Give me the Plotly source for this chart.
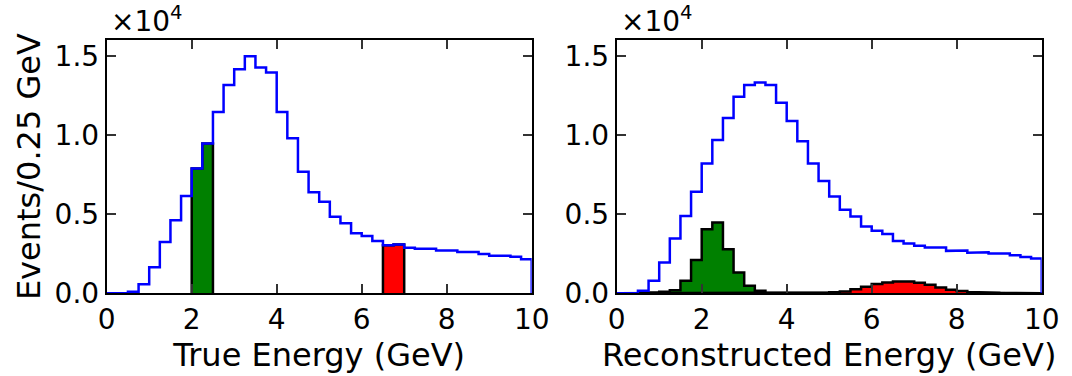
import plotly.graph_objects as go

# ---------------- data ----------------
bin_edges = [i * 0.25 for i in range(41)]  # 0 .. 10 GeV, 0.25 GeV bins

true_all = [0, 0, 100, 570, 1640, 3240, 4610, 6140, 7890, 9470,
            11450, 13150, 14160, 14980, 14270, 13950, 11450, 9790, 7680, 6380,
            5790, 4840, 4420, 3790, 3620, 3300, 3030, 3090, 2880, 2820,
            2820, 2710, 2710, 2610, 2610, 2480, 2370, 2370, 2310, 2150]
true_green = [7890, 9470]          # bins 2.00-2.50 GeV
true_green_edges = [2.0, 2.25, 2.5]
true_red = [3030, 3090]            # bins 6.50-7.00 GeV
true_red_edges = [6.5, 6.75, 7.0]

reco_all = [0, 0, 160, 790, 1950, 3460, 4890, 6410, 8200, 9680,
            11080, 12410, 13160, 13310, 13160, 12030, 10890, 9610, 8200, 7100,
            6110, 5270, 4850, 4220, 3950, 3740, 3310, 3140, 3000, 2890,
            2890, 2680, 2700, 2560, 2590, 2520, 2520, 2410, 2300, 2200]
reco_green = [0, 0, 10, 50, 100, 200, 790, 2100, 4050, 4470,
              2790, 1310, 470, 160, 30, 10, 5, 0, 0, 0,
              0, 0, 0, 0, 0, 0, 0, 0, 0, 0,
              0, 0, 0, 0, 0, 0, 0, 0, 0, 0]
reco_red = [0, 0, 0, 0, 0, 0, 0, 0, 0, 0,
            0, 0, 5, 5, 10, 10, 15, 20, 30, 40,
            60, 115, 260, 410, 580, 680, 750, 750, 660, 540,
            370, 220, 140, 75, 40, 30, 20, 10, 5, 0]

y_tickvals = [0, 5000, 10000, 15000]
y_ticktext = ["0.0", "0.5", "1.0", "1.5"]
x_tickvals = [0, 2, 4, 6, 8, 10]
x_ticktext = ["0", "2", "4", "6", "8", "10"]


def step_xy(edges, vals):
    xs, ys = [edges[0]], [0]
    for i, v in enumerate(vals):
        xs += [edges[i], edges[i + 1]]
        ys += [v, v]
    xs.append(edges[-1])
    ys.append(0)
    return xs, ys


FONT = "DejaVu Sans"
TICK_SIZE = 28
TITLE_SIZE = 32
fig = go.Figure()

panels = [
    ("x", "y", true_all, [(true_green_edges, true_green, "#008000"),
                          (true_red_edges, true_red, "#ff0000")]),
    ("x2", "y2", reco_all, [(bin_edges, reco_green, "#008000"),
                            (bin_edges, reco_red, "#ff0000")]),
]

for xa, ya, allv, fills in panels:
    for edges, vals, col in fills:
        sx, sy = step_xy(edges, vals)
        fig.add_trace(go.Scatter(x=sx, y=sy, mode="lines", fill="toself",
                                 fillcolor=col, line=dict(color="black", width=2.5),
                                 xaxis=xa, yaxis=ya, showlegend=False,
                                 hoverinfo="skip"))
    sx, sy = step_xy(bin_edges, allv)
    fig.add_trace(go.Scatter(x=sx, y=sy, mode="lines",
                             line=dict(color="#0000ff", width=2.5),
                             xaxis=xa, yaxis=ya, showlegend=False))

W, H = 1072, 376
xd1 = [106.7 / W, 531.7 / W]
xd2 = [616.7 / W, 1041.7 / W]
yd = [(H - 293.3) / H, (H - 40) / H]

axis_common = dict(showline=True, linecolor="black", linewidth=2, mirror="allticks",
                   ticks="inside", ticklen=9, tickwidth=1.5, tickcolor="#333",
                   showgrid=False, zeroline=False, automargin=False,
                   tickfont=dict(family=FONT, size=TICK_SIZE, color="black"))

fig.update_layout(
    width=W, height=H,
    margin=dict(l=0, r=0, t=0, b=0),
    paper_bgcolor="white", plot_bgcolor="white",
    font=dict(family=FONT, color="black"),
    xaxis=dict(domain=xd1, range=[0, 10], tickvals=x_tickvals, ticktext=x_ticktext,
               anchor="y", title=dict(text="True Energy (GeV)",
                                      font=dict(family=FONT, size=TITLE_SIZE), standoff=6),
               **axis_common),
    yaxis=dict(domain=yd, range=[0, 16000], tickvals=y_tickvals, ticktext=y_ticktext,
               anchor="x", title=dict(text="Events/0.25 GeV",
                                      font=dict(family=FONT, size=TITLE_SIZE), standoff=4),
               **axis_common),
    xaxis2=dict(domain=xd2, range=[0, 10], tickvals=x_tickvals, ticktext=x_ticktext,
                anchor="y2", title=dict(text="Reconstructed Energy (GeV)",
                                        font=dict(family=FONT, size=TITLE_SIZE), standoff=6),
                **axis_common),
    yaxis2=dict(domain=yd, range=[0, 16000], tickvals=y_tickvals, ticktext=y_ticktext,
                anchor="x2", **axis_common),
    annotations=[
        dict(text="×10<sup>4</sup>", xref="paper", yref="paper",
             x=xd1[0], y=yd[1], xanchor="left", yanchor="bottom", showarrow=False,
             font=dict(family=FONT, size=28, color="black"), yshift=0, xshift=2),
        dict(text="×10<sup>4</sup>", xref="paper", yref="paper",
             x=xd2[0], y=yd[1], xanchor="left", yanchor="bottom", showarrow=False,
             font=dict(family=FONT, size=28, color="black"), yshift=0, xshift=2),
    ],
)

fig.write_html("out.html")
